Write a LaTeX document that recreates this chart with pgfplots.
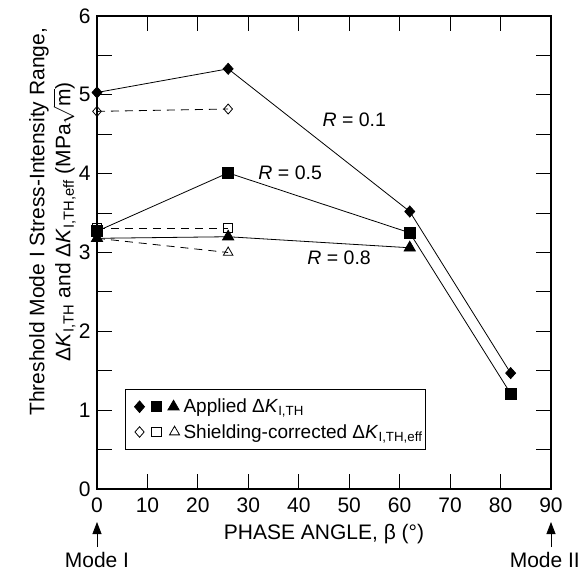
\documentclass[border=0pt]{standalone}
\usepackage{fontspec}
\setmainfont{Liberation Sans}
\usepackage{pgfplots}
\pgfplotsset{compat=1.18}
\usetikzlibrary{arrows.meta}
\newcommand{\dK}[1]{Δ\textit{K}\textsubscript{#1}}
\begin{document}
\begin{tikzpicture}[font=\fontsize{21bp}{26bp}\selectfont]
\begin{axis}[
  at={(0,0)}, anchor=south west,
  scale only axis, width=454bp, height=473bp,
  xmin=0, xmax=90, ymin=0, ymax=6,
  xtick={0,10,...,90}, ytick={0,1,...,6},
  minor y tick num=1,
  tick align=inside,
  major tick length=15bp, minor tick length=15bp,
  axis line style={line width=1.1bp},
  every tick/.style={black, line width=0.9bp},
  /pgf/number format/assume math mode=true,
  tick label style={font=\fontsize{21bp}{25bp}\selectfont},
  xticklabel style={yshift=-5bp},
  yticklabel style={xshift=-3bp},
  clip=false,
  xlabel={PHASE ANGLE, β (°)},
  xlabel style={at={(axis description cs:0.5,0)}, anchor=center, yshift=-45bp},
  ylabel={Threshold Mode I Stress-Intensity Range,\\ \dK{I,TH} and \dK{I,TH,eff} (MPa$\sqrt{\mbox{m}}$)},
  ylabel style={align=center, at={(axis description cs:-0.098,0.565)}, anchor=center,
    font=\fontsize{21bp}{26bp}\selectfont},
  legend style={at={(axis description cs:0.062,0.212)}, anchor=north west,
    draw=black, line width=0.8bp, font=\fontsize{19bp}{23bp}\selectfont,
    inner xsep=1bp, inner ysep=8bp, row sep=6bp},
  legend cell align=left,
]
\addplot[black, line width=0.8bp, dash pattern=on 8bp off 6bp, mark=diamond, mark size=5bp,
  mark options={solid, fill=white, xscale=1.15}, forget plot] coordinates {(0,4.79)(26,4.82)};
\addplot[black, line width=0.8bp, dash pattern=on 8bp off 6bp, mark=square, mark size=4.5bp,
  mark options={solid, fill=white}, forget plot] coordinates {(0,3.31)(26,3.31)};
\addplot[black, line width=0.8bp, dash pattern=on 8bp off 6bp, mark=triangle, mark size=5.5bp,
  mark options={solid, fill=white}, forget plot] coordinates {(0,3.18)(26,3.0)};
\addplot[black, line width=0.8bp, mark=diamond*, mark size=5.5bp,
  mark options={xscale=1.2, solid}, forget plot] coordinates {(0,5.03)(26,5.33)(62,3.52)(82,1.47)};
\addplot[black, line width=0.8bp, mark=square*, mark size=5.5bp, forget plot]
  coordinates {(0,3.27)(26,4.01)(62,3.25)(82,1.21)};
\addplot[black, line width=0.8bp, mark=triangle*, mark size=6.5bp, forget plot]
  coordinates {(0,3.18)(26,3.2)(62,3.06)};

\addlegendimage{legend image code/.code={
  \path[draw=none, fill=none] (0bp,-1bp) rectangle (55bp,1bp);
  \fill (13bp,0bp) +(0,5.8bp) -- +(5bp,0) -- +(0,-5.8bp) -- +(-5bp,0) -- cycle;
  \fill (30bp,0bp) +(-5bp,-5bp) rectangle +(5bp,5bp);
  \fill (47bp,0bp) +(90:6.5bp) -- +(210:6.5bp) -- +(330:6.5bp) -- cycle;
}}
\addlegendentry{Applied \dK{I,TH}}
\addlegendimage{legend image code/.code={
  \path[draw=none, fill=none] (0bp,-1bp) rectangle (55bp,1bp);
  \draw[line width=0.8bp, solid] (13bp,0bp) +(0,5.3bp) -- +(4.6bp,0) -- +(0,-5.3bp) -- +(-4.6bp,0) -- cycle;
  \draw[line width=0.8bp, solid] (30bp,0bp) +(-4.7bp,-4.7bp) rectangle +(4.7bp,4.7bp);
  \draw[line width=0.8bp, solid] (48bp,0bp) +(90:5.8bp) -- +(210:5.8bp) -- +(330:5.8bp) -- cycle;
}}
\addlegendentry{Shielding-corrected \dK{I,TH,eff}}

\node[font=\fontsize{19.5bp}{23bp}\selectfont] at (axis cs:51,4.68) {\textit{R} = 0.1};
\node[font=\fontsize{19.5bp}{23bp}\selectfont] at (axis cs:38.3,4.01) {\textit{R} = 0.5};
\node[font=\fontsize{19.5bp}{23bp}\selectfont] at (axis cs:48,2.93) {\textit{R} = 0.8};

\draw[line width=0.8bp, -{Triangle[length=12bp,width=9bp]}] ([yshift=-58bp]axis cs:0,0) -- ([yshift=-33bp]axis cs:0,0);
\draw[line width=0.8bp, -{Triangle[length=12bp,width=9bp]}] ([yshift=-58bp]axis cs:90,0) -- ([yshift=-33bp]axis cs:90,0);
\node at ([yshift=-71bp]axis cs:0,0) {Mode I};
\node[anchor=east, inner xsep=0pt] at ([yshift=-71bp, xshift=29bp]axis cs:90,0) {Mode II};
\end{axis}
\pgfresetboundingbox
\path (-97bp,-87bp) rectangle (483bp,489bp);
\end{tikzpicture}
\end{document}
